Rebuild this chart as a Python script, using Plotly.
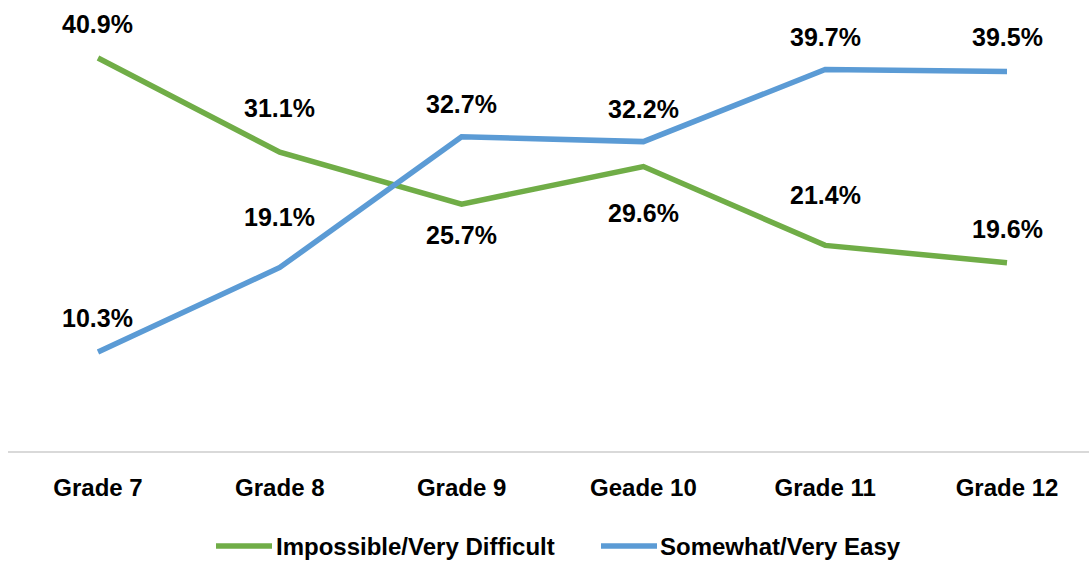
import plotly.graph_objects as go

# Survey results by grade level (percent of respondents)
grades = ["Grade 7", "Grade 8", "Grade 9", "Geade 10", "Grade 11", "Grade 12"]
difficult = [40.9, 31.1, 25.7, 29.6, 21.4, 19.6]
easy = [10.3, 19.1, 32.7, 32.2, 39.7, 39.5]

series_names = ["Impossible/Very Difficult", "Somewhat/Very Easy"]
series_colors = ["#70AD47", "#5B9BD5"]

# Vertical placement of each value label, in pixels (positive = above the point)
difficult_label_shift = [34, 44, -31, -46, 50, 34]
easy_label_shift = [34, 50, 33, 33, 33, 34]

W, H = 1089, 561
PLOT_L, PLOT_R, PLOT_T, PLOT_B = 8, 1089, 0, 451

label_font = dict(family="Liberation Sans, Arial, sans-serif", size=25, color="#000000")
axis_font = dict(family="Liberation Sans, Arial, sans-serif", size=24, color="#000000")

x_idx = list(range(len(grades)))

fig = go.Figure()
for name, color, vals in zip(series_names, series_colors, [difficult, easy]):
    fig.add_trace(go.Scatter(
        x=x_idx, y=vals, mode="lines", name=name,
        line=dict(color=color, width=5.5),
        showlegend=False, hoverinfo="skip",
    ))

annotations = []
for vals, shifts in [(difficult, difficult_label_shift), (easy, easy_label_shift)]:
    for xi, v, s in zip(x_idx, vals, shifts):
        annotations.append(dict(
            x=xi, y=v, xref="x", yref="y", text=f"<b>{v:.1f}%</b>",
            showarrow=False, xanchor="center", yanchor="middle", yshift=s,
            font=label_font,
        ))


def px_to_paper(px, py):
    return ((px - PLOT_L) / (PLOT_R - PLOT_L), (PLOT_B - py) / (PLOT_B - PLOT_T))


# Legend drawn as line samples with text beside them
legend_y = 546
legend_items = [(216, 272, 274), (601, 657, 658)]
shapes = []
for (x0, x1, tx), name, color in zip(legend_items, series_names, series_colors):
    p0 = px_to_paper(x0, legend_y)
    p1 = px_to_paper(x1, legend_y)
    shapes.append(dict(type="line", xref="paper", yref="paper",
                       x0=p0[0], y0=p0[1], x1=p1[0], y1=p1[1],
                       line=dict(color=color, width=5.5)))
    pt = px_to_paper(tx, legend_y)
    annotations.append(dict(x=pt[0], y=pt[1], xref="paper", yref="paper",
                            text=f"<b>{name}</b>", showarrow=False,
                            xanchor="left", yanchor="middle", font=axis_font))

fig.update_layout(
    width=W, height=H,
    margin=dict(l=PLOT_L, r=W - PLOT_R, t=PLOT_T, b=H - PLOT_B, pad=0),
    paper_bgcolor="white", plot_bgcolor="white",
    annotations=annotations, shapes=shapes,
    xaxis=dict(
        range=[-0.495, 5.451], tickmode="array", tickvals=x_idx,
        ticktext=[f"<b>{g}</b>" for g in grades],
        tickfont=axis_font, showgrid=False, zeroline=False,
        showline=True, linecolor="#D9D9D9", linewidth=1.5,
        ticks="outside", ticklen=14, tickcolor="rgba(0,0,0,0)",
        fixedrange=True,
    ),
    yaxis=dict(range=[0, 46.94], visible=False, showgrid=False, zeroline=False,
               fixedrange=True),
)

fig.write_html("out.html")
